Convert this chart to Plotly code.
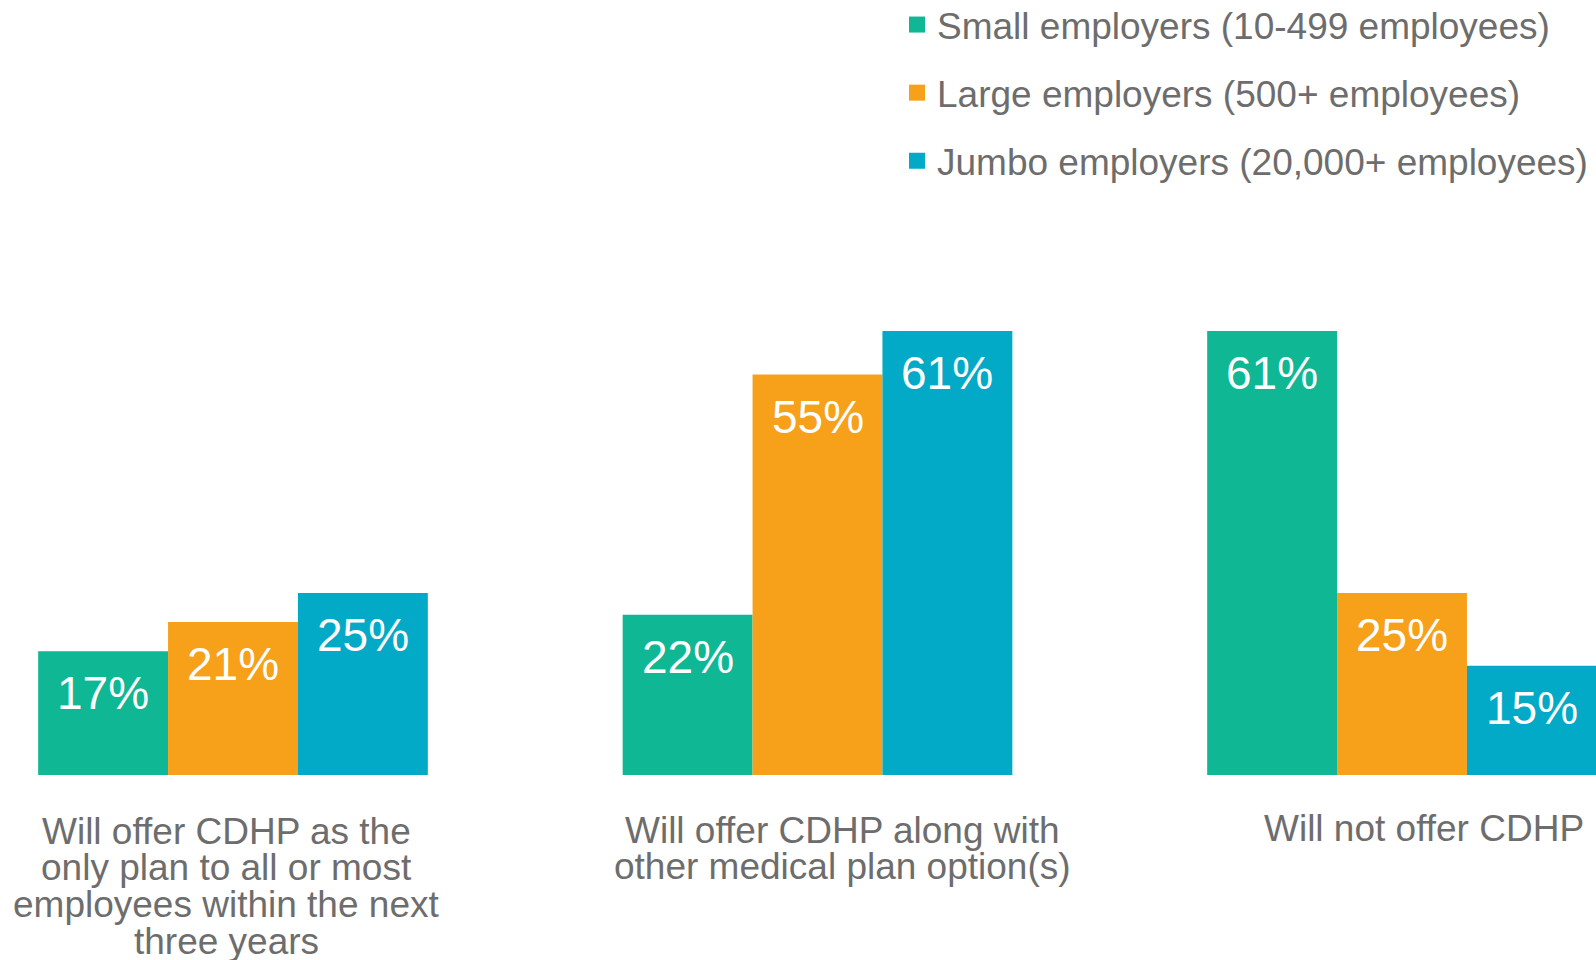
import plotly.graph_objects as go

# Survey responses: CDHP plans over the next three years, by employer size
categories = [
    "Will offer CDHP as the only plan",
    "Will offer CDHP along with other options",
    "Will not offer CDHP",
]
series_names = [
    "Small employers (10-499 employees)",
    "Large employers (500+ employees)",
    "Jumbo employers (20,000+ employees)",
]
small_values = [17, 22, 61]
large_values = [21, 55, 25]
jumbo_values = [25, 61, 15]

# Category captions, one entry per line of text
caption_lines = [
    ["Will offer CDHP as the", "only plan to all or most", "employees within the next", "three years"],
    ["Will offer CDHP along with", "other medical plan option(s)"],
    ["Will not offer CDHP"],
]

colors = ["#10B794", "#F7A01A", "#02AAC8"]
text_gray = "#6d6d6d"
font_family = "Liberation Sans, Arial, sans-serif"

W, H = 1596, 960
plot_bottom = 775          # pixel row of the baseline
px_per_pct = 7.28

fig = go.Figure()
all_values = [small_values, large_values, jumbo_values]
x_idx = list(range(len(categories)))

for name, vals, col in zip(series_names, all_values, colors):
    fig.add_trace(go.Bar(
        x=x_idx, y=vals, name=name, marker=dict(color=col, line=dict(width=0)),
        showlegend=False, hoverinfo="y",
    ))

# Legend entries drawn as square markers
for i, (name, col) in enumerate(zip(series_names, colors)):
    fig.add_trace(go.Scatter(
        x=[None], y=[None], mode="markers", name=name,
        marker=dict(symbol="square", size=16, color=col),
        legendgroup=f"g{i}", showlegend=True,
    ))

bargap = 1 / 3
bar_w = (1 - bargap) / 3
annotations = []

# Value labels inside the top of each bar
for j, vals in enumerate(all_values):
    for i, v in enumerate(vals):
        annotations.append(dict(
            x=i + (j - 1) * bar_w, y=v, xref="x", yref="y",
            text=f"{v}%", showarrow=False, yanchor="top", yshift=-14,
            font=dict(family=font_family, size=46, color="white"),
        ))

# Category captions below the axis
caption_centers = [226, 842, 1424]
caption_first_line = [831, 830, 828]
line_step = 36.7
for lines, cx, cy in zip(caption_lines, caption_centers, caption_first_line):
    for k, line in enumerate(lines):
        py = cy + k * line_step
        annotations.append(dict(
            x=cx / W, y=(plot_bottom - py) / plot_bottom, xref="paper", yref="paper",
            text=line, showarrow=False, xanchor="center", yanchor="middle",
            font=dict(family=font_family, size=37, color=text_gray),
        ))

x_left = (0 - 233) / 584.5
x_right = (W - 233) / 584.5

fig.update_layout(
    width=W, height=H,
    margin=dict(l=0, r=0, t=0, b=H - plot_bottom, autoexpand=False),
    paper_bgcolor="white", plot_bgcolor="white",
    barmode="group", bargap=bargap, bargroupgap=0,
    xaxis=dict(range=[x_left, x_right], showticklabels=False, showgrid=False,
               zeroline=False, showline=False, fixedrange=True),
    yaxis=dict(range=[0, plot_bottom / px_per_pct], showticklabels=False, showgrid=False,
               zeroline=False, showline=False, fixedrange=True),
    legend=dict(
        x=(937 - 40) / W, y=1 + 6 / plot_bottom, xanchor="left", yanchor="top",
        font=dict(family=font_family, size=37, color=text_gray),
        traceorder="grouped", tracegroupgap=17, bgcolor="rgba(0,0,0,0)",
        itemclick=False, itemdoubleclick=False,
    ),
    annotations=annotations,
    font=dict(family=font_family),
)

fig.write_html("out.html")
